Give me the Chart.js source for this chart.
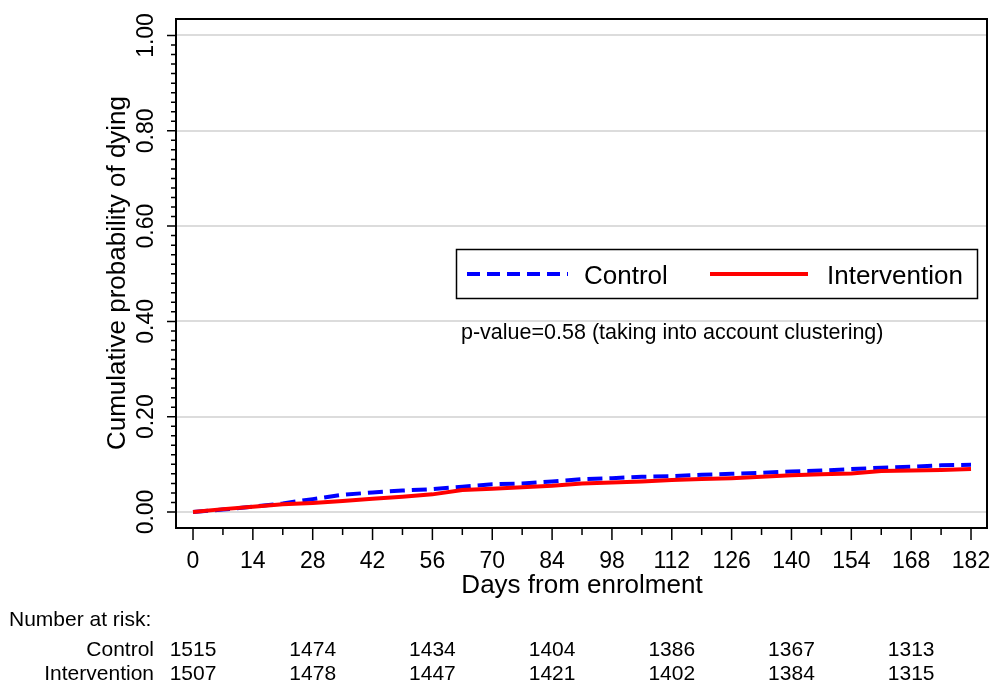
<!DOCTYPE html>
<html lang="en">
<head>
  <meta charset="UTF-8" />
  <title>Cumulative probability of dying</title>
  <script src="https://cdn.jsdelivr.net/npm/chart.js"></script>
  <style>
    body { margin: 0; background: #fff; }
    canvas { display: block; }
  </style>
</head>
<body>
  <canvas id="kmChart" width="996" height="686"></canvas>

  <script>
    // every 7 days
    const days = [0, 7, 14, 21, 28, 35, 42, 49, 56, 63, 70, 77, 84, 91, 98, 105, 112, 119, 126, 133, 140, 147, 154, 161, 168, 175, 182];
    const controlCum = [0, 0.005, 0.011, 0.018, 0.027, 0.036, 0.041, 0.045, 0.048, 0.053, 0.058, 0.060, 0.064, 0.069, 0.071, 0.074, 0.075, 0.078, 0.080, 0.082, 0.085, 0.087, 0.090, 0.093, 0.095, 0.098, 0.099];
    const interventionCum = [0, 0.006, 0.011, 0.016, 0.019, 0.023, 0.028, 0.032, 0.037, 0.046, 0.049, 0.052, 0.055, 0.060, 0.062, 0.064, 0.067, 0.069, 0.071, 0.074, 0.077, 0.079, 0.081, 0.086, 0.087, 0.088, 0.090];

    const xTicks = [0, 14, 28, 42, 56, 70, 84, 98, 112, 126, 140, 154, 168, 182];
    const yTicks = [0, 0.2, 0.4, 0.6, 0.8, 1.0];

    const riskDays = [0, 28, 56, 84, 112, 140, 168];
    const riskControl = [1515, 1474, 1434, 1404, 1386, 1367, 1313];
    const riskIntervention = [1507, 1478, 1447, 1421, 1402, 1384, 1315];

    const FONT = '"Liberation Sans", Arial, Helvetica, sans-serif';
    const BLUE = "#0000ff";
    const RED = "#ff0000";

    const toPoints = (ys) => days.map((d, i) => ({ x: d, y: ys[i] }));

    // frame, ticks, labels, legend and risk table
    const decorations = {
      id: "decorations",
      afterDraw(chart) {
        const { ctx, chartArea: a, scales } = chart;
        const x = scales.x, y = scales.y;
        ctx.save();

        // box
        ctx.strokeStyle = "#000";
        ctx.lineWidth = 2;
        ctx.strokeRect(a.left, a.top, a.right - a.left, a.bottom - a.top);

        // ticks
        ctx.lineWidth = 1.5;
        ctx.beginPath();
        for (let i = 0; i <= 50; i++) {
          const py = y.getPixelForValue(i * 0.02);
          const len = i % 10 === 0 ? 9 : 5;
          ctx.moveTo(a.left - len, py);
          ctx.lineTo(a.left, py);
        }
        for (let d = 0; d <= 182; d += 7) {
          const px = x.getPixelForValue(d);
          const len = d % 14 === 0 ? 12 : 7;
          ctx.moveTo(px, a.bottom);
          ctx.lineTo(px, a.bottom + len);
        }
        ctx.stroke();

        ctx.fillStyle = "#000";

        // x tick labels
        ctx.font = "23px " + FONT;
        ctx.textAlign = "center";
        ctx.textBaseline = "alphabetic";
        xTicks.forEach(t => ctx.fillText(String(t), x.getPixelForValue(t), 568));

        // y tick labels, rotated
        yTicks.forEach(t => {
          ctx.save();
          ctx.translate(153, y.getPixelForValue(t));
          ctx.rotate(-Math.PI / 2);
          ctx.fillText(t.toFixed(2), 0, 0);
          ctx.restore();
        });

        // axis titles
        ctx.font = "26px " + FONT;
        ctx.fillText("Days from enrolment", 582, 593);
        ctx.save();
        ctx.translate(125, 273);
        ctx.rotate(-Math.PI / 2);
        ctx.fillText("Cumulative probability of dying", 0, 0);
        ctx.restore();

        // legend
        ctx.lineWidth = 1.5;
        ctx.strokeStyle = "#000";
        ctx.strokeRect(456.5, 249.5, 521, 49);
        ctx.lineWidth = 4;
        ctx.strokeStyle = BLUE;
        ctx.setLineDash([13, 7]);
        ctx.beginPath();
        ctx.moveTo(467, 274);
        ctx.lineTo(568, 274);
        ctx.stroke();
        ctx.setLineDash([]);
        ctx.strokeStyle = RED;
        ctx.beginPath();
        ctx.moveTo(710, 274);
        ctx.lineTo(808, 274);
        ctx.stroke();
        ctx.font = "26px " + FONT;
        ctx.textAlign = "left";
        ctx.fillText("Control", 584, 284);
        ctx.fillText("Intervention", 827, 284);

        // p-value note
        ctx.font = "21.5px " + FONT;
        ctx.fillText("p-value=0.58 (taking into account clustering)", 461, 339);

        // number at risk
        ctx.font = "21px " + FONT;
        ctx.fillText("Number at risk:", 9, 626);
        ctx.textAlign = "right";
        ctx.fillText("Control", 154, 656);
        ctx.fillText("Intervention", 154, 680);
        ctx.textAlign = "center";
        riskDays.forEach((d, i) => {
          const px = x.getPixelForValue(d);
          ctx.fillText(String(riskControl[i]), px, 656);
          ctx.fillText(String(riskIntervention[i]), px, 680);
        });

        ctx.restore();
      }
    };

    new Chart(document.getElementById("kmChart"), {
      type: "line",
      data: {
        datasets: [
          {
            label: "Control",
            data: toPoints(controlCum),
            borderColor: BLUE,
            borderWidth: 4,
            borderDash: [15, 7],
            pointRadius: 0,
            tension: 0,
            order: 2
          },
          {
            label: "Intervention",
            data: toPoints(interventionCum),
            borderColor: RED,
            borderWidth: 4,
            pointRadius: 0,
            tension: 0,
            order: 1
          }
        ]
      },
      options: {
        responsive: false,
        animation: false,
        layout: { padding: { top: 19, right: 9, left: 0, bottom: 0 } },
        plugins: {
          legend: { display: false },
          tooltip: { enabled: false }
        },
        scales: {
          x: {
            type: "linear",
            min: -3.98,
            max: 185.74,
            grid: { display: false },
            border: { display: false },
            ticks: { display: false },
            afterFit: (s) => { s.height = 158; }
          },
          y: {
            min: -0.0336,
            max: 1.0346,
            afterBuildTicks: (s) => { s.ticks = yTicks.map(v => ({ value: v })); },
            grid: { color: "#dcdcdc", lineWidth: 2, drawTicks: false },
            border: { display: false },
            ticks: { display: false },
            afterFit: (s) => { s.width = 176; }
          }
        }
      },
      plugins: [decorations]
    });
  </script>
</body>
</html>
